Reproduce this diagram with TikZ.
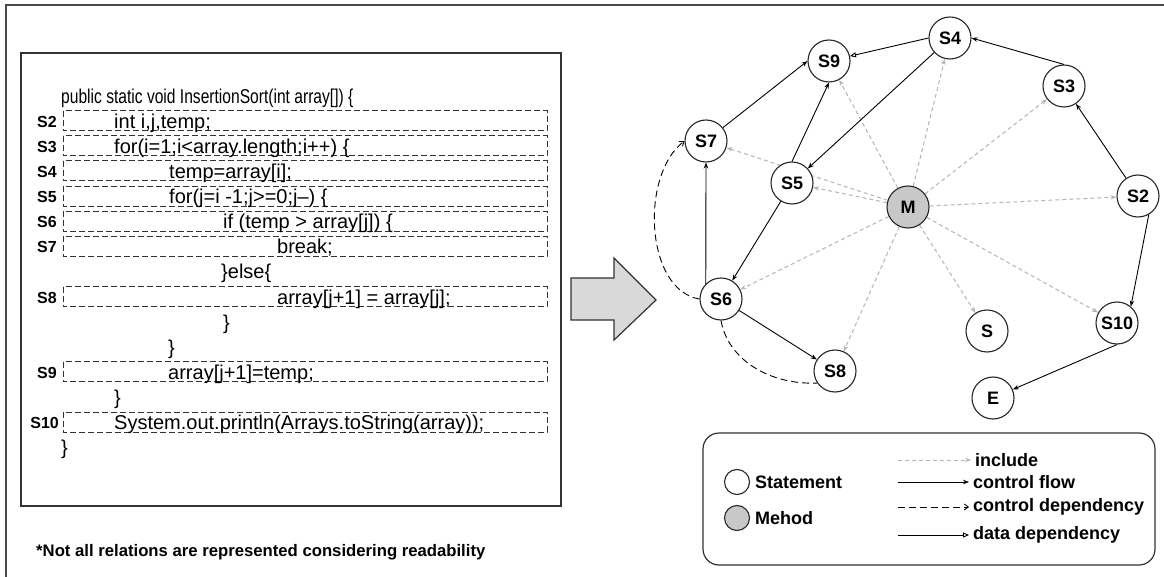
\documentclass[tikz,border=0pt]{standalone}
\usepackage{fontspec}
\usepackage{graphicx}
\setmainfont{Liberation Sans}
\usetikzlibrary{arrows.meta,backgrounds}
\definecolor{inclgray}{HTML}{B4B4B4}
\definecolor{mgray}{HTML}{C8C8C8}
\definecolor{arrowgray}{HTML}{D9D9D9}
\definecolor{framegray}{HTML}{4A4A4A}
\tikzset{
  stmt/.style={circle,draw=black!85,line width=1.1pt,fill=white,minimum size=42pt,inner sep=0pt,font=\fontsize{18}{18}\selectfont\bfseries},
  meth/.style={stmt,fill=mgray},
  code/.style={anchor=base west,inner sep=0pt,font=\fontsize{20}{20}\selectfont},
  lab/.style={anchor=base east,inner sep=0pt,font=\fontsize{16}{16}\selectfont\bfseries},
  stmtbox/.style={draw=black!80,line width=1pt,dash pattern=on 6pt off 3pt},
  flow/.style={-{Stealth[length=6pt,width=4.5pt]},line width=0.9pt},
  ctrldep/.style={-{Straight Barb[length=4pt,width=6pt]},line width=0.9pt,dash pattern=on 7pt off 4pt},
  datadep/.style={-{Triangle[open,length=6pt,width=5pt]},line width=0.9pt},
  incl/.style={-{Stealth[length=6pt,width=4.5pt]},draw=inclgray,line width=1pt,dash pattern=on 4pt off 3pt},
  keytext/.style={anchor=west,inner sep=4pt,font=\fontsize{18}{18}\selectfont\bfseries},
}
\begin{document}
\begin{tikzpicture}[x=1pt,y=-1pt]
  \useasboundingbox (0,0) rectangle (1164,577);
  \draw[framegray,line width=1.6pt] (6,577) -- (6,5) -- (1164,5);
  \draw[black!80,line width=1.4pt] (21,53) rectangle (561,506);

  \draw[stmtbox] (63,110.8) rectangle (547,130.8);
  \draw[stmtbox] (63,135.9) rectangle (547,155.9);
  \draw[stmtbox] (63,161.0) rectangle (547,181.0);
  \draw[stmtbox] (63,186.1) rectangle (547,206.1);
  \draw[stmtbox] (63,211.2) rectangle (547,231.2);
  \draw[stmtbox] (63,236.3) rectangle (547,256.3);
  \draw[stmtbox] (63,286.5) rectangle (547,306.5);
  \draw[stmtbox] (63,361.8) rectangle (547,381.8);
  \draw[stmtbox] (63,412.0) rectangle (547,432.0);

  \node[code] (l0) at (61,103.2) {\scalebox{0.78}[1]{public static void InsertionSort(int array[]) \{}};
  \node[code] (l1) at (114,128.3) {int i,j,temp;};
  \node[code] (l2) at (114,153.4) {for(i=1;i<array.length;i++) \{};
  \node[code] (l3) at (169,178.5) {temp=array[i];};
  \node[code] (l4) at (169,203.6) {for(j=i -1;j>=0;j–) \{};
  \node[code] (l5) at (223,228.7) {if (temp > array[j]) \{};
  \node[code] (l6) at (277,253.8) {break;};
  \node[code] (l7) at (221,278.9) {\}else\{};
  \node[code] (l8) at (277,304.0) {array[j+1] = array[j];};
  \node[code] (l9) at (223,329.1) {\}};
  \node[code] (l10) at (168,354.2) {\}};
  \node[code] (l11) at (168,379.3) {array[j+1]=temp;};
  \node[code] (l12) at (114,404.4) {\}};
  \node[code] (l13) at (114,429.5) {System.out.println(Arrays.toString(array));};
  \node[code] (l14) at (61,454.6) {\}};

  \node[lab] (c2) at (57,127.5) {S2};
  \node[lab] (c3) at (57,152.6) {S3};
  \node[lab] (c4) at (57,177.7) {S4};
  \node[lab] (c5) at (57,202.8) {S5};
  \node[lab] (c6) at (57,227.9) {S6};
  \node[lab] (c7) at (57,253.0) {S7};
  \node[lab] (c8) at (57,303.2) {S8};
  \node[lab] (c9) at (57,378.5) {S9};
  \node[lab] (c10) at (59,428.7) {S10};

  \node[anchor=west,inner sep=0pt,font=\fontsize{16.7}{18}\selectfont\bfseries] (note) at (36,552) {*Not all relations are represented considering readability};

  \draw[fill=arrowgray,draw=black!80,line width=1.2pt] (571,278) -- (614,278) -- (614,258) -- (656,300) -- (614,340) -- (614,320) -- (571,320) -- cycle;

  \node[stmt] (S4) at (950,38) {S4};
  \node[stmt] (S9) at (829,61) {S9};
  \node[stmt] (S3) at (1064,86) {S3};
  \node[stmt] (S7) at (706,141) {S7};
  \node[stmt] (S5) at (792,183) {S5};
  \node[meth] (M) at (908,207) {M};
  \node[stmt] (S2) at (1138,196) {S2};
  \node[stmt] (S6) at (721,299) {S6};
  \node[stmt] (S8) at (835,371) {S8};
  \node[stmt] (S) at (987,331) {S};
  \node[stmt] (S10) at (1117,323) {S10};
  \node[stmt] (E) at (993,398) {E};

  \begin{scope}[on background layer]
    \draw[incl] (M) to (S9);
    \draw[incl] (M) to (S4);
    \draw[incl] (M) to (S3);
    \draw[incl] (M) to (S2);
    \draw[incl] (M) to (S10);
    \draw[incl] (M) to (S);
    \draw[incl] (M) to (S8);
    \draw[incl] (M) to (S6);
    \draw[incl] (M) to (S5);
    \draw[incl] (M) to (S7);
  \end{scope}
  \draw[flow] (S2) to (S3);
  \draw[flow] (S3.north) to (S4.east);
  \draw[flow] (S4) to (S5);
  \draw[flow] (S5) to (S6);
  \draw[flow] (S6.north west) to (S7.south);
  \draw[flow] (S7) to (S9.west);
  \draw[flow] (S5.north) to (S9.south);
  \draw[flow] (S6) to (S8);
  \draw[flow] (S2.300) to (S10.50);
  \draw[flow] (S10.south) to (E);
  \draw[datadep] (S4.west) to (S9);
  \draw[ctrldep] (S6.west) .. controls (645,290) and (640,175) .. (S7.west);
  \draw[ctrldep,-] (S6.south) .. controls (728,360) and (770,385) .. (S8.214);

  \draw[black!80,line width=1.2pt,rounded corners=16pt] (703,433) rectangle (1155,565);
  \node[circle,draw=black!85,line width=1.1pt,minimum size=25pt,inner sep=0pt] (keyS) at (737,482) {};
  \node[circle,draw=black!85,line width=1.1pt,minimum size=25pt,inner sep=0pt,fill=mgray] (keyM) at (737,518) {};
  \node[keytext] (tS) at (751,482) {Statement};
  \node[keytext] (tM) at (751,518) {Mehod};
  \coordinate (k1) at (898,460);
  \coordinate (k2) at (898,482);
  \coordinate (k3) at (898,507);
  \coordinate (k4) at (898,535);
  \node[keytext] (tinc) at (971,460) {include};
  \node[keytext] (tflow) at (969,482) {control flow};
  \node[keytext] (tcdep) at (969,507) {control dependency};
  \node[keytext] (tddep) at (969,535) {data dependency};
  \draw[incl] (k1) to (tinc.west);
  \draw[flow] (k2) to (tflow.west);
  \draw[ctrldep] (k3) to (tcdep.west);
  \draw[datadep] (k4) to (tddep.west);
\end{tikzpicture}
\end{document}
